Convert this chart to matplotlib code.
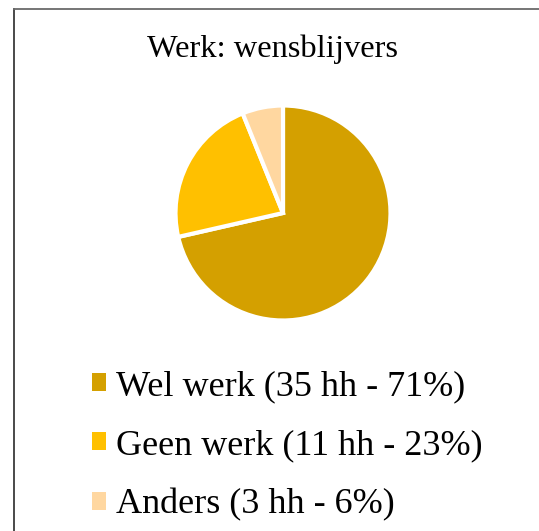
import matplotlib
matplotlib.use("Agg")
import matplotlib.pyplot as plt
from matplotlib.lines import Line2D

title = "Werk: wensblijvers"
categories = ["Wel werk", "Geen werk", "Anders"]
counts = [35, 11, 3]
percents = [71, 23, 6]
colors = ["#D4A000", "#FFC000", "#FFD7A0"]
labels = [f"{c} ({n} hh - {p}%)" for c, n, p in zip(categories, counts, percents)]

W, H = 539, 531
fig = plt.figure(figsize=(W / 100, H / 100), dpi=100)
fig.patch.set_facecolor("white")

# pie axes
cx, cy, r = 283, 213, 107.5
lim = 1.03
half = r * lim
ax = fig.add_axes([(cx - half) / W, (H - cy - half) / H, 2 * half / W, 2 * half / H])
wedges, _ = ax.pie(counts, colors=colors, startangle=90, counterclock=False,
                   wedgeprops=dict(edgecolor="white", linewidth=3))
ax.set_xlim(-lim, lim)
ax.set_ylim(-lim, lim)
ax.set_aspect("equal")
ax.axis("off")

fig.text(272.5 / W, 1 - 49 / H, title, ha="center", va="center",
         fontsize=23.4, family="Liberation Serif", color="#000000")

leg = fig.legend(wedges, labels, loc="center left",
                 bbox_to_anchor=(92 / W, 1 - 446 / H),
                 frameon=False, prop=dict(family="Liberation Serif", size=26),
                 handlelength=0.39, handleheight=0.39, handletextpad=0.27,
                 labelspacing=0.72, borderpad=0, borderaxespad=0)
for h in leg.legend_handles:
    h.set_edgecolor("none")

# border (left and top)
fig.add_artist(Line2D([13.5 / W, 13.5 / W], [0, 1 - 8.5 / H], transform=fig.transFigure,
                      color="#3a3a3a", linewidth=1.3))
fig.add_artist(Line2D([13.5 / W, 1], [1 - 8.5 / H, 1 - 8.5 / H], transform=fig.transFigure,
                      color="#6a6a6a", linewidth=1.3))

fig.savefig("out.png", dpi=100)
